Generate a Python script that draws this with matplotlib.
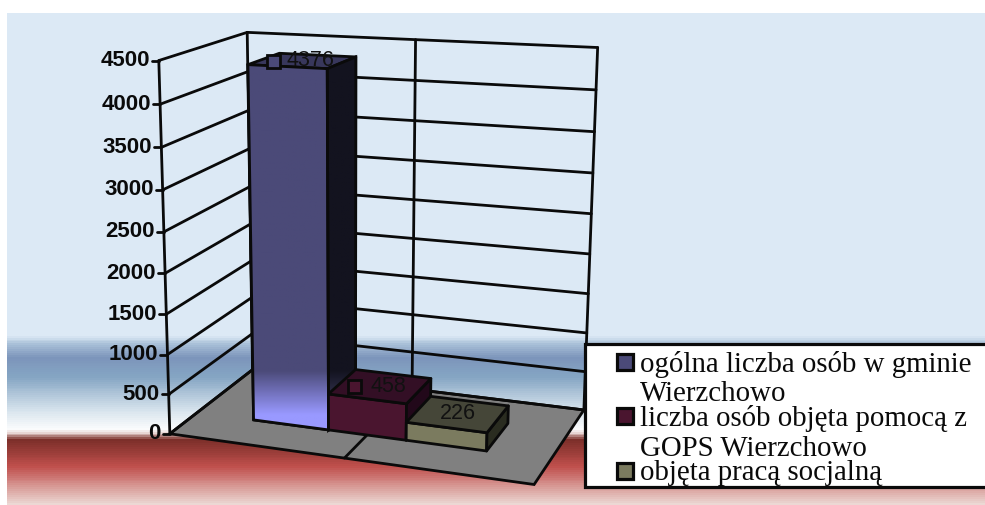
import numpy as np
import matplotlib
matplotlib.use("Agg")
import matplotlib.pyplot as plt
from matplotlib.colors import LinearSegmentedColormap
from matplotlib.patches import Polygon, Rectangle

# dane z wykresu
series_names = ["ogólna liczba osób w gminie\nWierzchowo",
                "liczba osób objęta pomocą z\nGOPS Wierzchowo",
                "objęta pracą socjalną"]
series_values = [4376, 458, 226]
value_ticks = [0, 500, 1000, 1500, 2000, 2500, 3000, 3500, 4000, 4500]
vmax = 4500

front_cols = ["#4b4a78", "#4a152f", "#7b7b5f"]
top_cols = ["#38375c", "#330f25", "#454638"]
side_cols = ["#13131f", "#22081a", "#2a2c20"]
key_cols = ["#4b4a78", "#4a152f", "#7b7b5f"]

# kalibracja rzutu: (x, glebokosc, wartosc) -> piksel
calib = [((0, 0, 0), (172, 432)), ((0, 0, vmax), (157, 60)),
         ((0, 1, vmax), (249, 32)), ((1, 1, vmax), (597, 47)),
         ((1, 1, 0), (585, 408)), ((1, 0, 0), (533, 486)),
         ((0, 1, 0), (250, 371)), ((0.5, 1, vmax), (416, 41)),
         ((0.5, 0, 0), (345, 459))]
A, b = [], []
for (x, d, v), (px, py) in calib:
    v = v / vmax
    A.append([x, d, v, 1, 0, 0, 0, 0, -px * x, -px * d, -px * v])
    b.append(px)
    A.append([0, 0, 0, 0, x, d, v, 1, -py * x, -py * d, -py * v])
    b.append(py)
P = np.append(np.linalg.lstsq(np.array(A, float), np.array(b, float), rcond=None)[0], 1).reshape(3, 4)


def proj(x, d, v):
    h = P @ np.array([x, d, v / vmax, 1])
    return h[0] / h[2], h[1] / h[2]


fig = plt.figure(figsize=(9.85, 5.05), dpi=100, facecolor="white")
ax = fig.add_axes([0, 0, 1, 1])
ax.set_xlim(0, 985)
ax.set_ylim(505, 0)
ax.axis("off")

# tlo
stops = [(13, "#dce9f5"), (336, "#dce9f5"), (345, "#a9c0d8"), (358, "#7c95bb"), (378, "#86a6c4"),
         (410, "#d5e2ec"), (430, "#fbfcfd"), (434, "#e6d3d0"), (441, "#7c2f2a"), (468, "#c0504d"),
         (505, "#ecd8d4")]
bg = LinearSegmentedColormap.from_list("bg", [((y - 13) / (505 - 13), c) for y, c in stops])
ax.imshow(np.linspace(0, 1, 492)[:, None], cmap=bg, extent=(7, 985, 505, 13), aspect="auto", zorder=0)
ax.set_xlim(0, 985)
ax.set_ylim(505, 0)

LW = 2.0
z = 2


def line(p, q):
    ax.plot([p[0], q[0]], [p[1], q[1]], color="#0a0a0a", lw=LW, zorder=z, solid_capstyle="round")


# podloga
ax.add_patch(Polygon([proj(0, 0, 0), proj(1, 0, 0), proj(1, 1, 0), proj(0, 1, 0)], fc="#808080",
                     ec="#0a0a0a", lw=LW, zorder=1.5))
line(proj(0.5, 0, 0), proj(0.5, 1, 0))

# siatka
for v in value_ticks:
    line(proj(0, 0, v), proj(0, 1, v))
    line(proj(0, 1, v), proj(1, 1, v))
    px, py = proj(0, 0, v)
    line((px - 7, py), (px, py))
    ax.text(px - 9, py, str(v), ha="right", va="center", fontsize=16, fontweight="bold",
            family="Liberation Sans", color="#0a0a0a", zorder=3)
for x in [0, 0.5, 1]:
    line(proj(x, 1, 0), proj(x, 1, vmax))
line(proj(0, 0, 0), proj(0, 0, vmax))

# slupki
bar_w = 0.22
bar_x0 = 0.17
d0, d1 = 0.31, 0.69
for i, val in enumerate(series_values):
    x0 = bar_x0 + i * bar_w
    x1 = x0 + bar_w
    z = 4 + i
    front = [proj(x0, d0, 0), proj(x1, d0, 0), proj(x1, d0, val), proj(x0, d0, val)]
    side = [proj(x1, d0, 0), proj(x1, d1, 0), proj(x1, d1, val), proj(x1, d0, val)]
    top = [proj(x0, d0, val), proj(x1, d0, val), proj(x1, d1, val), proj(x0, d1, val)]
    for pts, col in ((front, front_cols[i]), (side, side_cols[i]), (top, top_cols[i])):
        ax.add_patch(Polygon(pts, fc=col, ec="#0a0a0a", lw=LW, joinstyle="round", zorder=z))
    if i == 0:
        # rozjasnienie dolu pierwszego slupka
        for pts, c0, c1 in ((front, "#4b4a78", "#9999ff"), (side, "#13131f", "#46466e")):
            cm = LinearSegmentedColormap.from_list("b", [(0, c0), (0.45, c0), (1, c1)])
            ys = [p[1] for p in pts]
            xs = [p[0] for p in pts]
            ext = (min(xs), max(xs), max(ys), min(ys))
            g = np.clip((np.linspace(min(ys), max(ys), 300) - 335) / 80, 0, 1)[:, None]
            im = ax.imshow(g, cmap=cm, vmin=0, vmax=1, extent=ext, aspect="auto", zorder=z + 0.1)
            clip = Polygon(pts, transform=ax.transData, fc="none", ec="#0a0a0a", lw=LW, zorder=z + 0.2)
            ax.add_patch(clip)
            im.set_clip_path(clip)
        ax.set_xlim(0, 985)
        ax.set_ylim(505, 0)

# etykiety danych
for i, val in enumerate(series_values):
    x0 = bar_x0 + i * bar_w
    cx, cy = proj(x0 + bar_w / 2, (d0 + d1) / 2, val)
    zl = 8
    if i < 2:
        ax.add_patch(Rectangle((cx - 36 + 4 * i, cy - 6), 13, 13, fc=key_cols[i], ec="#0a0a0a", lw=LW, zorder=zl))
        cx += 8
    ax.text(cx, cy, str(val), ha="center", va="center", fontsize=15.5, family="Liberation Sans",
            color="#111111", zorder=zl)

# legenda
ax.add_patch(Rectangle((585, 344), 410, 143, fc="white", ec="#0a0a0a", lw=LW + 0.3, zorder=9))
key_y = [362, 416, 471]
text_y = [(372, 401), (426, 456), (480, None)]
for i, name in enumerate(series_names):
    ax.add_patch(Rectangle((617, key_y[i] - 8), 16, 16, fc=key_cols[i], ec="#0a0a0a", lw=LW + 0.3, zorder=10))
    for j, part in enumerate(name.split("\n")):
        ax.text(640, text_y[i][j], part, ha="left", va="baseline", fontsize=20.8, family="Liberation Serif",
                color="#0a0a0a", zorder=10)

fig.savefig("out.png", dpi=100)
